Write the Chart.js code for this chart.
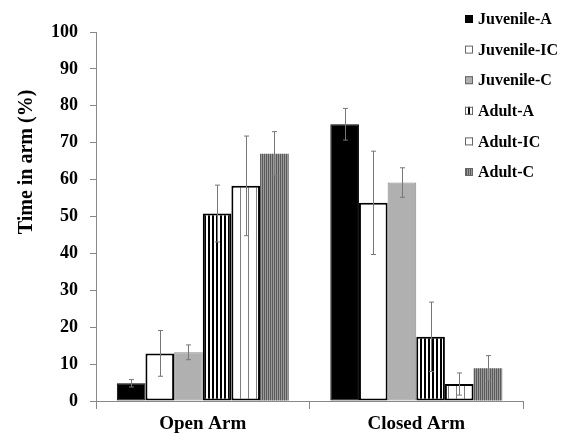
<!DOCTYPE html>
<html>
<head>
<meta charset="utf-8">
<script src="https://cdn.jsdelivr.net/npm/chart.js@4.4.0/dist/chart.umd.min.js"></script>
<style>
  html, body { margin: 0; padding: 0; background: #fff; }
  #wrap { width: 565px; height: 433px; }
</style>
</head>
<body>
<div id="wrap"><canvas id="chart"></canvas></div>
<script>
const categories = ['Open Arm', 'Closed Arm'];
const groups = ['Juvenile-A', 'Juvenile-IC', 'Juvenile-C', 'Adult-A', 'Adult-IC', 'Adult-C'];

const juvenileA = [4.8, 75.0];
const juvenileIC = [12.9, 53.7];
const juvenileC = [13.2, 59.2];
const adultA = [50.8, 17.4];
const adultIC = [58.3, 4.6];
const adultC = [67.0, 8.9];

const juvenileAErr = [1.0, 4.3];
const juvenileICErr = [6.2, 14.0];
const juvenileCErr = [2.0, 4.0];
const adultAErr = [7.7, 9.4];
const adultICErr = [13.5, 3.0];
const adultCErr = [6.0, 3.4];

const yTicks = [0, 10, 20, 30, 40, 50, 60, 70, 80, 90, 100];

const SERIF = '"Liberation Serif", "DejaVu Serif", serif';

// stripe patterns for the adult bars
function stripes(w, cols) {
  const c = document.createElement('canvas');
  c.width = w; c.height = 4;
  const g = c.getContext('2d');
  cols.forEach((col, i) => { g.fillStyle = col; g.fillRect(i, 0, 1, 4); });
  return g.createPattern(c, 'repeat');
}
const patA = stripes(4, ['#000', '#000', '#fff', '#fff']);
const patIC = stripes(8, ['#808080', '#fff', '#fff', '#fff', '#fff', '#fff', '#fff', '#fff']);
const patC = stripes(2, ['#5a5a5a', '#9a9a9a']);

const values = [juvenileA, juvenileIC, juvenileC, adultA, adultIC, adultC];
const errors = [juvenileAErr, juvenileICErr, juvenileCErr, adultAErr, adultICErr, adultCErr];
const fills = ['#000', '#fff', '#b0b0b0', patA, patIC, patC];
const borders = ['#000', '#000', '#8a8a8a', '#000', '#000', '#6e6e6e'];
const borderW = [1, 2, 1, 2, 2, 0];

const errorBars = {
  id: 'errorBars',
  afterDatasetsDraw(chart) {
    const ctx = chart.ctx;
    const y = chart.scales.y;
    ctx.save();
    ctx.strokeStyle = '#777';
    ctx.lineWidth = 1;
    chart.data.datasets.forEach((ds, i) => {
      chart.getDatasetMeta(i).data.forEach((bar, j) => {
        const v = ds.data[j], e = errors[i][j];
        const x = Math.round(bar.x) + 0.5;
        const top = y.getPixelForValue(v + e), bot = y.getPixelForValue(v - e);
        ctx.beginPath();
        ctx.moveTo(x, top); ctx.lineTo(x, bot);
        ctx.moveTo(x - 2.5, top); ctx.lineTo(x + 2.5, top);
        ctx.moveTo(x - 2.5, bot); ctx.lineTo(x + 2.5, bot);
        ctx.stroke();
      });
    });
    ctx.restore();
  }
};

const sideTexts = {
  id: 'sideTexts',
  afterDraw(chart) {
    const ctx = chart.ctx;
    ctx.save();
    // y title
    ctx.translate(27, 162);
    ctx.rotate(-Math.PI / 2);
    ctx.font = 'bold 20px ' + SERIF;
    ctx.fillStyle = '#000';
    ctx.textAlign = 'center';
    ctx.textBaseline = 'middle';
    ctx.fillText('Time in arm (%)', 0, 0);
    ctx.restore();

    // legend
    ctx.save();
    ctx.font = 'bold 16px ' + SERIF;
    ctx.textBaseline = 'middle';
    chart.data.datasets.forEach((ds, i) => {
      const cy = 19 + i * 30.6;
      ctx.fillStyle = ds.backgroundColor;
      ctx.fillRect(465, cy - 4, 8, 8);
      ctx.strokeStyle = i === 0 ? '#000' : '#666';
      ctx.lineWidth = 1;
      ctx.strokeRect(465.5, cy - 3.5, 7, 7);
      ctx.fillStyle = '#000';
      ctx.fillText(ds.label, 478, cy + 1);
    });
    ctx.restore();
  }
};

new Chart(document.getElementById('chart'), {
  type: 'bar',
  data: {
    labels: categories,
    datasets: groups.map((g, i) => ({
      label: g,
      data: values[i],
      backgroundColor: fills[i],
      borderColor: borders[i],
      borderWidth: borderW[i],
      borderSkipped: false,
      categoryPercentage: 0.805,
      barPercentage: 1.0
    }))
  },
  options: {
    responsive: true,
    maintainAspectRatio: false,
    animation: false,
    devicePixelRatio: 1,
    layout: { padding: { top: 32, right: 42, left: 0, bottom: 0 } },
    plugins: { legend: { display: false }, tooltip: { enabled: false } },
    scales: {
      x: {
        offset: true,
        grid: { display: true, drawOnChartArea: false, offset: true, tickLength: 8, color: '#888' },
        border: { color: '#888' },
        ticks: { color: '#000', padding: 4, font: { family: SERIF, size: 19, weight: 'bold' } },
        afterFit(s) { s.height = 32; }
      },
      y: {
        min: 0,
        max: 100,
        afterBuildTicks(s) { s.ticks = yTicks.map(v => ({ value: v })); },
        grid: { display: true, drawOnChartArea: false, tickLength: 6, color: '#888' },
        border: { color: '#888' },
        ticks: { color: '#000', padding: 12, font: { family: SERIF, size: 18, weight: 'bold' } },
        afterFit(s) { s.width = 96; }
      }
    }
  },
  plugins: [errorBars, sideTexts]
});
</script>
</body>
</html>
